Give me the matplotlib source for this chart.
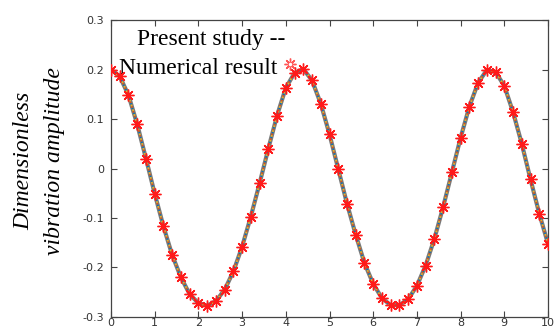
import numpy as np
import matplotlib.pyplot as plt

# tiempo adimensional (paso 0.2) y amplitud
t = np.round(np.arange(0, 10.01, 0.2), 1)
amplitud = [0.200, 0.186, 0.148, 0.089, 0.020, -0.051, -0.117, -0.175, -0.220, -0.254,
            -0.272, -0.277, -0.268, -0.245, -0.208, -0.158, -0.097, -0.030, 0.040, 0.107,
            0.163, 0.193, 0.201, 0.178, 0.131, 0.069, -0.001, -0.071, -0.134, -0.191,
            -0.233, -0.262, -0.276, -0.276, -0.264, -0.237, -0.196, -0.142, -0.078, -0.008,
            0.062, 0.125, 0.173, 0.199, 0.195, 0.167, 0.114, 0.050, -0.022, -0.091,
            -0.152]

xticks = np.arange(0, 11, 1)
yticks = [-0.3, -0.2, -0.1, 0, 0.1, 0.2, 0.3]
ytick_labels = ['-0.3', '-0.2', '-0.1', '0', '0.1', '0.2', '0.3']

fig = plt.figure(figsize=(5.59, 3.27), dpi=100)
ax = fig.add_axes([0.1986, 0.0306, 0.7817, 0.9082])

# curva numérica: línea gris gruesa con puntos de colores encima
ax.plot(t, amplitud, color='#7a7a7a', lw=3.0, solid_capstyle='round', zorder=2)
colores = ['#0072BD', '#D95319', '#EDB120']
for i, c in enumerate(colores):
    ax.plot(t, amplitud, color=c, lw=1.2, linestyle=(1.0 * i, (1, 2)),
            dash_capstyle='butt', zorder=3)

# estudio presente
ax.plot(t, amplitud, linestyle='none', marker=(8, 2, 0), ms=8.5, mew=1.0,
        color='#ff1a1a', zorder=4)

ax.set_xlim(0, 10)
ax.set_ylim(-0.3, 0.3)
ax.set_xticks(xticks)
ax.set_yticks(yticks)
ax.set_yticklabels(ytick_labels)
ax.tick_params(direction='in', length=4, width=0.8, color='#444444',
               labelsize=8, labelcolor='#333333', top=True, right=True, pad=5)
ax.tick_params(axis='x', pad=1)
for s in ax.spines.values():
    s.set_color('#444444')
    s.set_linewidth(0.9)

ax.set_ylabel('Dimensionless\nvibration amplitude', family='Liberation Serif',
              style='italic', fontsize=17, linespacing=1.6)
ax.yaxis.set_label_coords(-0.106, 0.525)

# leyenda como texto
ax.text(0.06, 0.97, 'Present study --', transform=ax.transAxes, family='Liberation Serif',
        fontsize=17, va='top', ha='left')
ax.text(0.018, 0.873, 'Numerical result', transform=ax.transAxes, family='Liberation Serif',
        fontsize=17, va='top', ha='left')
ax.plot([0.41], [0.852], transform=ax.transAxes, marker=(8, 2, 0), ms=8.5, mew=1.0,
        color='#ff5555', clip_on=False, zorder=5)
ax.plot([0.41], [0.852], transform=ax.transAxes, marker='o', ms=2.5, mew=0,
        color='white', clip_on=False, zorder=6)

fig.savefig('out.png', dpi=100)
